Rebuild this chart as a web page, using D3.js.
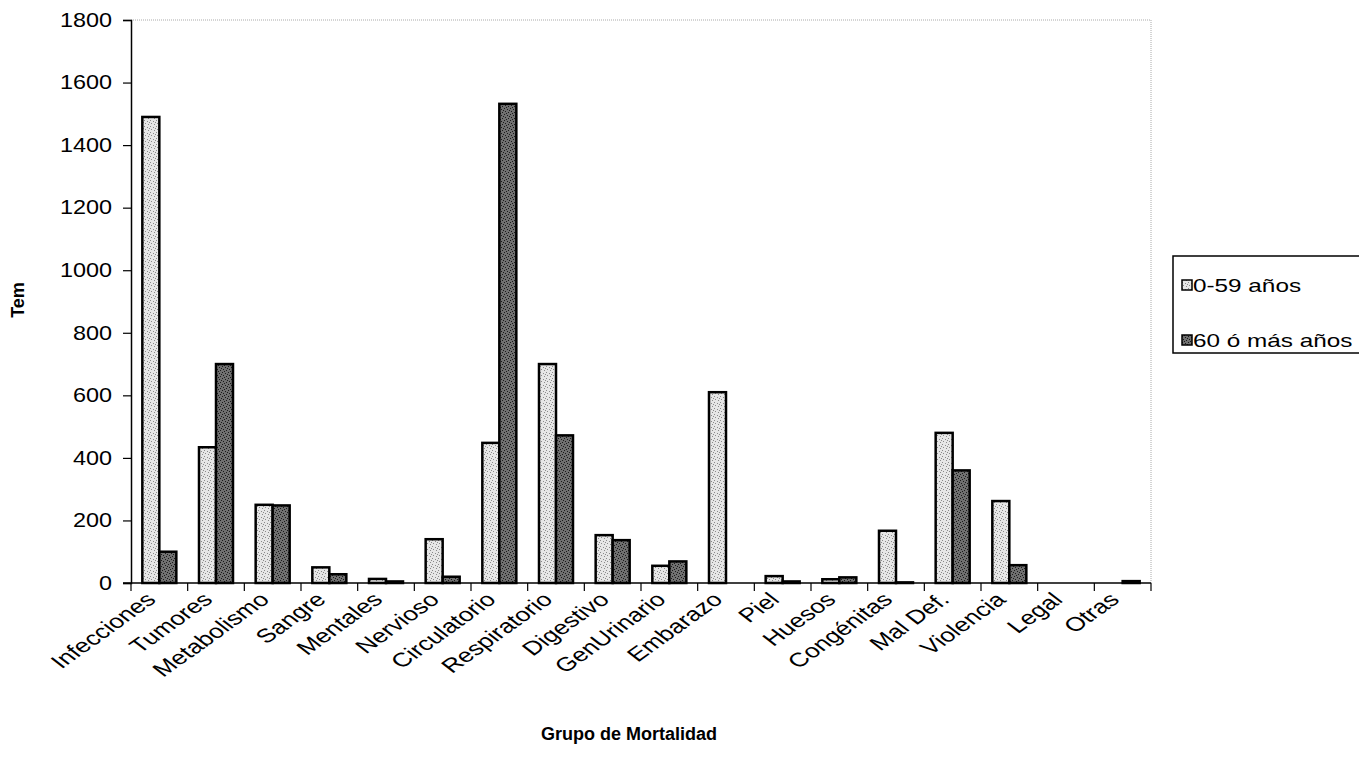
<!DOCTYPE html>
<html><head><meta charset="utf-8">
<script src="https://cdn.jsdelivr.net/npm/d3@7"></script>
<style>body{margin:0;background:#fff}svg{display:block;font-family:"Liberation Sans",Arial,sans-serif}</style>
</head><body><svg id="c" width="1359" height="767"></svg>
<script>
const categories = ["Infecciones","Tumores","Metabolismo","Sangre","Mentales","Nervioso","Circulatorio","Respiratorio","Digestivo","GenUrinario","Embarazo","Piel","Huesos","Congénitas","Mal Def.","Violencia","Legal","Otras"];
const seriesNames = ["0-59 años","60 ó más años"];
const young = [1490,434,250,50,13,140,448,700,153,55,610,22,12,167,480,262,0,0];
const old   = [100,700,248,28,5,20,1532,472,137,69,0,5,18,2,360,57,0,6];
const yTicks = [0,200,400,600,800,1000,1200,1400,1600,1800];

const svg = d3.select("#c");
const L=131, T=20, R=1151, B=583;
const x = d3.scaleBand().domain(categories).range([L,R]).padding(0);
const y = d3.scaleLinear().domain([0,1800]).range([B,T]);
const bw = x.bandwidth();

// stipple patterns
const defs = svg.append("defs");
function pat(id, base, dot, pts){
  const p = defs.append("pattern").attr("id",id).attr("width",6).attr("height",6).attr("patternUnits","userSpaceOnUse");
  p.append("rect").attr("width",6).attr("height",6).attr("fill",base);
  pts.forEach(([a,b])=>p.append("rect").attr("x",a).attr("y",b).attr("width",1).attr("height",1).attr("fill",dot));
}
pat("p0","#e6e6e6","#8a8a8a",[[0,0],[3,1],[1,3],[4,4],[5,2]]);
pat("p1","#707070","#1a1a1a",[[0,0],[3,1],[1,3],[4,4],[5,2],[2,5]]);

// plot border dotted top/right
svg.append("path").attr("d",`M${L},${T}H${R}V${B}`).attr("fill","none").attr("stroke","#aaa").attr("stroke-width",1).attr("stroke-dasharray","1,1");

// bars
const data = [young, old];
data.forEach((vals, si) => {
  svg.append("g").selectAll("rect").data(categories).join("rect")
    .attr("x", c => x(c) + bw*0.2 + si*bw*0.3)
    .attr("y", (c,i) => y(vals[i]))
    .attr("width", bw*0.3)
    .attr("height", (c,i) => B - y(vals[i]))
    .attr("fill", `url(#p${si})`)
    .attr("stroke","#000").attr("stroke-width",2.5);
});

// axes
const yAxis = svg.append("g").attr("transform",`translate(${L},0)`)
  .call(d3.axisLeft(y).tickValues(yTicks).tickSize(8).tickPadding(10).tickFormat(d3.format("d")));
yAxis.select(".domain").attr("stroke","#000").attr("stroke-width",1.5);
yAxis.selectAll("line").attr("stroke","#000").attr("stroke-width",1.2);
yAxis.selectAll("text").attr("font-size",19.5).attr("fill","#000")
  .attr("x",0).attr("transform","translate(-19,0) scale(1.2,1)");

const xAxis = svg.append("g").attr("transform",`translate(0,${B})`);
xAxis.append("line").attr("x1",L-8).attr("x2",R).attr("stroke","#000").attr("stroke-width",1.5);
const edges = categories.map(c=>x(c)).concat([R]);
xAxis.selectAll("line.t").data(edges).join("line").attr("class","t")
  .attr("x1",d=>d).attr("x2",d=>d).attr("y1",0).attr("y2",8).attr("stroke","#000").attr("stroke-width",1.2);
xAxis.selectAll("text").data(categories).join("text")
  .attr("transform", c => `translate(${x(c)+bw/2-2},${18}) scale(1.35,1) rotate(-44)`)
  .attr("text-anchor","end").attr("font-size",19.5).attr("fill","#000").text(c=>c);

// titles
svg.append("text").attr("x",629).attr("y",740).attr("text-anchor","middle")
  .attr("font-size",18).attr("font-weight","bold").text("Grupo de Mortalidad");
svg.append("text").attr("transform","translate(24,300) rotate(-90)").attr("text-anchor","middle")
  .attr("font-size",18).attr("font-weight","bold").text("Tem");

// legend
const lg = svg.append("g");
lg.append("rect").attr("x",1173).attr("y",256).attr("width",200).attr("height",97)
  .attr("fill","#fff").attr("stroke","#000").attr("stroke-width",1.5);
seriesNames.forEach((n,i)=>{
  const yy = 285 + i*55;
  lg.append("rect").attr("x",1182).attr("y",yy-5).attr("width",10).attr("height",10)
    .attr("fill",`url(#p${i})`).attr("stroke","#000").attr("stroke-width",1.5);
  lg.append("text").attr("transform",`translate(1193,${yy+7}) scale(1.35,1)`).attr("font-size",18).text(n);
});
</script></body></html>
